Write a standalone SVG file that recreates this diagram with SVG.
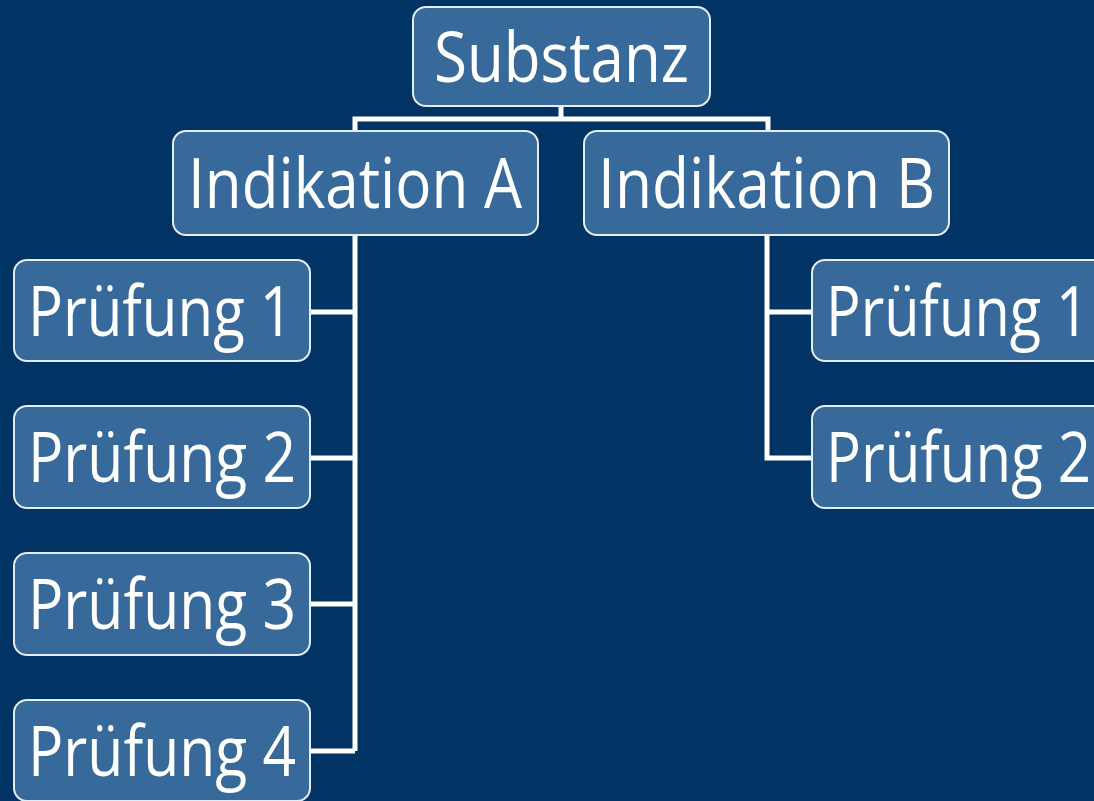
<svg xmlns="http://www.w3.org/2000/svg" width="1094" height="801" viewBox="0 0 1094 801">
<style>
.box{fill:#376a9b;stroke:#e4ecf4;stroke-width:2}
.t{font-family:"Open Sans","Liberation Sans",sans-serif;font-size:70px;fill:#ffffff}
.c{fill:none;stroke:#ffffff;stroke-width:5;stroke-linejoin:miter}
</style>
<rect x="0" y="0" width="1094" height="801" fill="#023365"/>
<g id="connectors">
<path class="c" d="M561 106 V119 M355 131 V119 H768 V131"/>
<path class="c" d="M355 235 V751 M310 312 H355 M310 458 H355 M310 604 H355 M310 751 H355"/>
<path class="c" d="M767 235 V458 H812 M767 312 H812"/>
</g>
<g id="substanz"><rect class="box" x="413" y="7" width="297" height="99" rx="13"/><text class="t" x="434" y="82" textLength="255" lengthAdjust="spacingAndGlyphs">Substanz</text></g>
<g id="indA"><rect class="box" x="173" y="131" width="365" height="104" rx="13"/><text class="t" x="188" y="208" textLength="334" lengthAdjust="spacingAndGlyphs">Indikation A</text></g>
<g id="indB"><rect class="box" x="584" y="131" width="365" height="104" rx="13"/><text class="t" x="598" y="208" textLength="337" lengthAdjust="spacingAndGlyphs">Indikation B</text></g>
<g id="a1"><rect class="box" x="14" y="260" width="296" height="101" rx="13"/><text class="t" x="28" y="336" textLength="265" lengthAdjust="spacingAndGlyphs">Prüfung 1</text></g>
<g id="a2"><rect class="box" x="14" y="406" width="296" height="102" rx="13"/><text class="t" x="28" y="482" textLength="268" lengthAdjust="spacingAndGlyphs">Prüfung 2</text></g>
<g id="a3"><rect class="box" x="14" y="553" width="296" height="102" rx="13"/><text class="t" x="28" y="629" textLength="268" lengthAdjust="spacingAndGlyphs">Prüfung 3</text></g>
<g id="a4"><rect class="box" x="14" y="700" width="296" height="101" rx="13"/><text class="t" x="28" y="776" textLength="268" lengthAdjust="spacingAndGlyphs">Prüfung 4</text></g>
<g id="b1"><rect class="box" x="812" y="260" width="296" height="101" rx="13"/><text class="t" x="826" y="336" textLength="263" lengthAdjust="spacingAndGlyphs">Prüfung 1</text></g>
<g id="b2"><rect class="box" x="812" y="406" width="296" height="102" rx="13"/><text class="t" x="826" y="482" textLength="265" lengthAdjust="spacingAndGlyphs">Prüfung 2</text></g>
</svg>
